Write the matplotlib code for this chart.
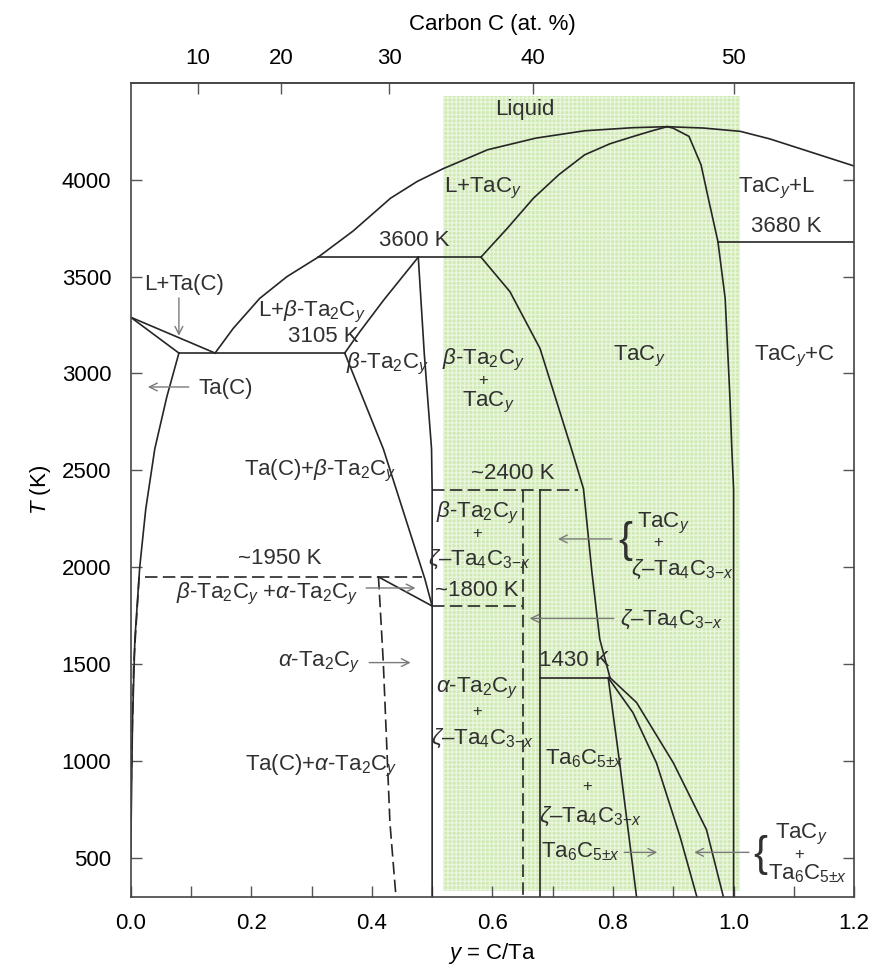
import matplotlib.pyplot as plt
import numpy as np

plt.rcParams['font.family'] = ['Liberation Sans', 'DejaVu Sans']
plt.rcParams['mathtext.fontset'] = 'custom'
plt.rcParams['mathtext.rm'] = 'Liberation Sans'
plt.rcParams['mathtext.it'] = 'Liberation Sans:italic'
plt.rcParams['mathtext.bf'] = 'Liberation Sans:bold'

# phase boundaries as (C/Ta, T in K)
liq_ta = [(0.0, 3290), (0.14, 3105)]
sol_ta = [(0.0, 3290), (0.08, 3105)]
liquidus = [(0.14, 3105), (0.17, 3232), (0.214, 3387), (0.259, 3499), (0.311, 3600),
            (0.369, 3735), (0.431, 3904), (0.475, 3990), (0.518, 4056), (0.592, 4154),
            (0.672, 4214), (0.753, 4252), (0.834, 4268), (0.89, 4273), (0.95, 4266),
            (1.011, 4249), (1.06, 4210), (1.116, 4154), (1.2, 4070)]
tac_sol_left = [(0.581, 3600), (0.625, 3750), (0.668, 3904), (0.71, 4025), (0.753, 4128),
                (0.795, 4185), (0.834, 4223), (0.865, 4252), (0.89, 4273)]
tac_sol_right = [(0.89, 4273), (0.90, 4265), (0.926, 4223), (0.946, 4076), (0.958, 3904),
                 (0.974, 3680), (0.986, 3387), (0.994, 2869), (0.997, 2611), (1.0, 2400),
                 (1.0, 300)]
ta_solvus = [(0.08, 3105), (0.06, 2880), (0.04, 2611), (0.025, 2300), (0.015, 2000),
             (0.007, 1630), (0.003, 1200), (0.0, 500)]
eut_3105 = [(0.08, 3105), (0.355, 3105)]
per_3600 = [(0.311, 3600), (0.581, 3600)]
b_upper = [(0.355, 3105), (0.38, 3215), (0.42, 3380), (0.477, 3600)]
b_right = [(0.477, 3600), (0.487, 3100), (0.499, 2611), (0.5, 2400), (0.5, 300)]
b_lower = [(0.355, 3105), (0.419, 2611), (0.488, 1939), (0.5, 1800)]
ba_line = [(0.411, 1950), (0.5, 1800)]
tac_left = [(0.581, 3600), (0.629, 3422), (0.679, 3128), (0.731, 2611), (0.751, 2405),
            (0.765, 1974), (0.778, 1629), (0.795, 1430)]
tac_low = [(0.795, 1430), (0.839, 1302), (0.90, 991), (0.955, 646), (0.983, 300)]
ta6_right = [(0.792, 1430), (0.833, 1250), (0.872, 991), (0.911, 612), (0.939, 300)]
ta6_left = [(0.792, 1430), (0.811, 991), (0.839, 300)]
line_1430 = [(0.679, 1430), (0.795, 1430)]
line_3680 = [(0.974, 3680), (1.2, 3680)]
zeta_right = [(0.679, 2400), (0.679, 300)]

# dashed (uncertain) boundaries
line_2400 = [(0.5, 2400), (0.742, 2400)]
line_1800 = [(0.5, 1800), (0.65, 1800)]
line_1950 = [(0.024, 1950), (0.483, 1950)]
zeta_left = [(0.65, 2400), (0.65, 300)]
a_ta2c = [(0.411, 1950), (0.419, 1508), (0.430, 681), (0.44, 300)]
ta_solvus_low = [(0.014, 1950), (0.005, 1500), (0.001, 900)]

solid = [liq_ta, sol_ta, liquidus, tac_sol_left, tac_sol_right, ta_solvus, eut_3105,
         per_3600, b_upper, b_right, b_lower, ba_line, tac_left, tac_low, ta6_right,
         ta6_left, line_1430, line_3680, zeta_right]
dashed = [line_2400, line_1800, line_1950, zeta_left, a_ta2c, ta_solvus_low]

green_x = [0.518, 1.011]
green_t = [330, 4430]

y_ticks = [500, 1000, 1500, 2000, 2500, 3000, 3500, 4000]
x_ticks = [0.0, 0.2, 0.4, 0.6, 0.8, 1.0, 1.2]
at_ticks = [10, 20, 30, 40, 50]

lc = '#262626'
tc = '#303030'
ac = '#7a7a7a'
fs = 16

fig = plt.figure(figsize=(8.77, 9.66), dpi=100)
ax = fig.add_axes([0.149, 0.0717, 0.825, 0.8427])

ax.fill_between(green_x, green_t[0], green_t[1], facecolor='#cfe9b3',
                edgecolor='#e9f5dc', hatch='++++', linewidth=0, zorder=0)

for seg in solid:
    a = np.array(seg)
    ax.plot(a[:, 0], a[:, 1], color=lc, lw=1.2, zorder=2)
for seg in dashed:
    a = np.array(seg)
    ax.plot(a[:, 0], a[:, 1], color=lc, lw=1.2, ls=(0, (7.5, 3.2)), zorder=2)


def lab(x, y, s, size=fs, **kw):
    ax.text(x, y, s, fontsize=size, color=tc, ha='center', va='center', zorder=3, **kw)


def arrow(x0, y0, x1, y1):
    ax.annotate('', xy=(x1, y1), xytext=(x0, y0),
                arrowprops=dict(arrowstyle='->', color=ac, lw=1.0, mutation_scale=14),
                zorder=3)


b2 = r'$\beta$-Ta$_2$C$_y$'
a2 = r'$\alpha$-Ta$_2$C$_y$'
z4 = r'$\zeta$–Ta$_4$C$_{3\mathrm{-}x}$'
t6 = r'Ta$_6$C$_{5{\pm}x}$'
tc_y = r'TaC$_y$'

lab(0.654, 4361, 'Liquid')
lab(0.584, 3956, r'L+TaC$_y$')
lab(1.071, 3956, r'TaC$_y$+L')
lab(0.47, 3685, '3600 K')
lab(1.088, 3758, '3680 K')
lab(0.088, 3459, 'L+Ta(C)')
arrow(0.080, 3404, 0.080, 3180)
lab(0.30, 3318, r'L+' + b2)
lab(0.32, 3189, '3105 K')
lab(0.426, 3051, b2)
lab(0.158, 2921, 'Ta(C)')
arrow(0.101, 2930, 0.024, 2930)
lab(0.585, 3070, b2)
lab(0.585, 2962, '+', size=12)
lab(0.593, 2850, tc_y)
lab(0.843, 3086, tc_y)
lab(1.101, 3086, r'TaC$_y$+C')
lab(0.315, 2499, r'Ta(C)+' + b2)
lab(0.634, 2482, '~2400 K')
lab(0.575, 2280, b2)
lab(0.575, 2176, '+', size=12)
lab(0.578, 2042, z4)
lab(0.820, 2135, '{', size=30)
lab(0.883, 2225, tc_y)
lab(0.875, 2127, '+', size=12)
lab(0.914, 1990, z4)
arrow(0.803, 2146, 0.704, 2146)
lab(0.248, 2043, '~1950 K')
lab(0.227, 1862, b2 + r' +' + a2)
arrow(0.386, 1893, 0.477, 1893)
lab(0.574, 1879, '~1800 K')
lab(0.897, 1732, z4)
arrow(0.806, 1736, 0.657, 1736)
lab(0.735, 1517, '1430 K')
lab(0.312, 1508, a2)
arrow(0.391, 1508, 0.469, 1508)
lab(0.575, 1374, a2)
lab(0.575, 1254, '+', size=12)
lab(0.583, 1120, z4)
lab(0.315, 974, r'Ta(C)+' + a2)
lab(0.752, 1010, t6)
lab(0.757, 867, '+', size=12)
lab(0.762, 715, z4)
lab(0.746, 534, t6)
arrow(0.814, 529, 0.878, 529)
arrow(1.030, 529, 0.930, 529)
lab(1.044, 515, '{', size=30)
lab(1.112, 620, tc_y)
lab(1.108, 518, '+', size=12)
lab(1.123, 420, t6)

ax.set_xlim(0, 1.2)
ax.set_ylim(300, 4500)
ax.set_xticks(x_ticks)
ax.set_xticklabels([f'{v:.1f}' for v in x_ticks])
ax.set_xticks(np.arange(0.1, 1.2, 0.2), minor=True)
ax.set_yticks(y_ticks)
ax.tick_params(which='both', direction='in', length=8, width=1, color='#555',
               labelsize=fs, right=True, top=False)
ax.tick_params(axis='x', pad=12)
ax.tick_params(axis='y', pad=14)
for sp in ax.spines.values():
    sp.set_color('#444')
    sp.set_linewidth(1.2)

ax.set_xlabel(r'$y$ = C/Ta', fontsize=fs, labelpad=5)
ax.set_ylabel(r'$T$ (K)', fontsize=fs, labelpad=6)


def y2at(y):
    y = np.asarray(y, dtype=float)
    return 100 * y / (1 + y)


def at2y(p):
    p = np.asarray(p, dtype=float)
    return p / (100 - p)


sec = ax.secondary_xaxis('top', functions=(y2at, at2y))
sec.set_xticks(at_ticks)
sec.tick_params(direction='in', length=8, width=1, color='#555', labelsize=fs, pad=10)
sec.spines['top'].set_color('#444')
sec.spines['top'].set_linewidth(1.2)
sec.set_xlabel('Carbon C (at. %)', fontsize=fs, labelpad=13)

fig.savefig('out.png', dpi=100)
